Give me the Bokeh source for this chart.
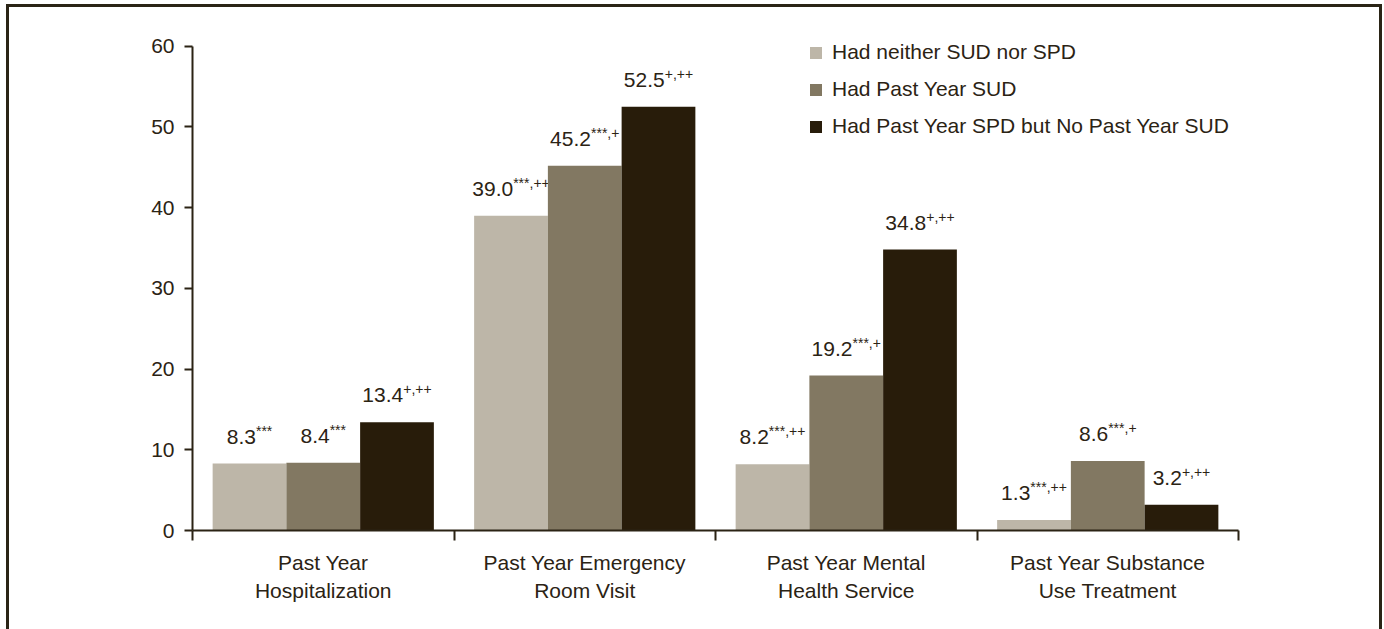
from bokeh.plotting import figure
from bokeh.models import (ColumnDataSource, Range1d, LinearAxis, FixedTicker,
                          Legend, LegendItem, InlineStyleSheet)
from bokeh.core.properties import value
from bokeh.embed import file_html
from bokeh.resources import INLINE

# ---------------- data ----------------
categories = ["Past Year\nHospitalization", "Past Year Emergency\nRoom Visit",
              "Past Year Mental\nHealth Service", "Past Year Substance\nUse Treatment"]
series = ["Had neither SUD nor SPD", "Had Past Year SUD",
          "Had Past Year SPD but No Past Year SUD"]
neither = [8.3, 39.0, 8.2, 1.3]
sud = [8.4, 45.2, 19.2, 8.6]
spd = [13.4, 52.5, 34.8, 3.2]
neither_sig = ["***", "***,++", "***,++", "***,++"]
sud_sig = ["***", "***,+", "***,+", "***,+"]
spd_sig = ["+,++", "+,++", "+,++", "+,++"]
y_ticks = [0, 10, 20, 30, 40, 50, 60]

colors = ["#BDB6A8", "#827862", "#281C0A"]
TEXT = "#2B2314"
FONT = "Liberation Sans"
MAIN_PX = 21
SUP_PX = 14

# Arial/Liberation Sans advance widths (em)
ADV = {c: 0.556 for c in "0123456789"}
ADV.update({".": 0.278, ",": 0.278, "*": 0.389, "+": 0.584})


def tw(s, px):
    return sum(ADV.get(c, 0.556) for c in s) * px


border_css = InlineStyleSheet(css="""
:host { position: relative; }
:host::after {
  content: "";
  position: absolute;
  left: 6px; top: 4px; right: 2px; bottom: -20px;
  border: 3px solid #2A2416;
  pointer-events: none;
  z-index: 10;
}
""")

W, H = 1384, 629
p = figure(width=W, height=H, output_backend="svg", toolbar_location=None,
           x_range=Range1d(0, len(categories)), y_range=Range1d(0, 63.18),
           min_border_left=192, min_border_right=146, min_border_top=20,
           min_border_bottom=99, x_axis_type=None, y_axis_type=None,
           stylesheets=[border_css])
p.outline_line_color = None
p.xgrid.visible = False
p.ygrid.visible = False
p.background_fill_color = "white"
p.border_fill_color = "white"

bar_w = 0.282
offsets = [-bar_w, 0.0, bar_w]
all_vals = [neither, sud, spd]
all_sig = [neither_sig, sud_sig, spd_sig]

renderers = []
for k in range(3):
    xs = [i + 0.5 + offsets[k] for i in range(len(categories))]
    vals = all_vals[k]
    mains = [f"{v:.1f}" for v in vals]
    sups = all_sig[k]
    main_w = [tw(m, MAIN_PX) for m in mains]
    sup_w = [tw(s, SUP_PX) for s in sups]
    tot = [a + b for a, b in zip(main_w, sup_w)]
    src = ColumnDataSource(dict(
        x=xs, top=vals, main=mains, sup=sups,
        mx=[-t / 2 for t in tot],
        sx=[-t / 2 + a for t, a in zip(tot, main_w)],
    ))
    r = p.vbar(x="x", top="top", width=bar_w, bottom=0, source=src,
               fill_color=colors[k], line_color=None)
    renderers.append(r)
    p.text(x="x", y="top", text="main", source=src, x_offset="mx", y_offset=-27,
           text_align="left", text_baseline="alphabetic",
           text_font=value(FONT), text_font_size=f"{MAIN_PX}px", text_color=TEXT)
    p.text(x="x", y="top", text="sup", source=src, x_offset="sx", y_offset=-33,
           text_align="left", text_baseline="alphabetic",
           text_font=value(FONT), text_font_size=f"{SUP_PX}px", text_color=TEXT)

# ---------------- axes ----------------
yaxis = LinearAxis(ticker=FixedTicker(ticks=y_ticks, minor_ticks=[]),
                   bounds=(y_ticks[0], y_ticks[-1]))
yaxis.axis_line_color = TEXT
yaxis.axis_line_width = 2
yaxis.major_tick_line_color = TEXT
yaxis.major_tick_line_width = 2
yaxis.major_tick_out = 8
yaxis.major_tick_in = 0
yaxis.minor_tick_line_color = None
yaxis.major_label_standoff = 10
yaxis.major_label_text_font = FONT
yaxis.major_label_text_font_size = "21px"
yaxis.major_label_text_color = TEXT
p.add_layout(yaxis, "left")

centers = [i + 0.5 for i in range(len(categories))]
bounds = [float(i) for i in range(len(categories) + 1)]
xaxis = LinearAxis(ticker=FixedTicker(ticks=centers, minor_ticks=bounds))
xaxis.major_label_overrides = {c: lab for c, lab in zip(centers, categories)}
xaxis.axis_line_color = TEXT
xaxis.axis_line_width = 2
xaxis.major_tick_line_color = None
xaxis.major_tick_out = 0
xaxis.major_tick_in = 0
xaxis.minor_tick_line_color = TEXT
xaxis.minor_tick_line_width = 2
xaxis.minor_tick_out = 10
xaxis.minor_tick_in = 0
xaxis.major_label_standoff = 10
xaxis.major_label_text_font = FONT
xaxis.major_label_text_font_size = "21px"
xaxis.major_label_text_color = TEXT
xaxis.major_label_text_line_height = 1.25
p.add_layout(xaxis, "below")

# ---------------- legend ----------------
legend = Legend(items=[LegendItem(label=s, renderers=[r]) for s, r in zip(series, renderers)],
                location=(616, 392), orientation="vertical")
legend.glyph_width = 15
legend.glyph_height = 15
legend.label_standoff = 9
legend.label_text_font = FONT
legend.label_text_font_size = "21px"
legend.label_text_color = TEXT
legend.spacing = 13
legend.padding = 0
legend.margin = 0
legend.border_line_color = None
legend.background_fill_alpha = 0
p.add_layout(legend, "center")

open("out.html", "w").write(file_html(p, INLINE))
